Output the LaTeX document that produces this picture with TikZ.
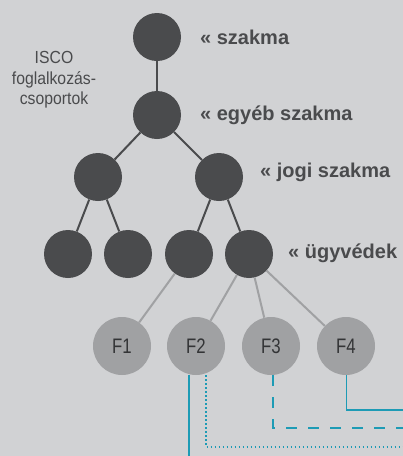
\documentclass[tikz,border=0pt]{standalone}
\usepackage{fontspec}
\setmainfont{Liberation Sans}
\newfontfamily\narrowfont[FakeStretch=0.8]{Liberation Sans}
\newfontfamily\semifont[FakeStretch=0.9]{Liberation Sans}
\definecolor{bg}{HTML}{D1D2D4}
\definecolor{dk}{HTML}{4A4B4D}
\definecolor{lt}{HTML}{A0A1A3}
\definecolor{fl}{HTML}{333436}
\definecolor{bl}{HTML}{1D9BB5}
\begin{document}
\begin{tikzpicture}[x=1pt,y=-1pt,
  dnode/.style={circle,fill=dk,minimum size=48pt,inner sep=0pt},
  fnode/.style={circle,fill=lt,minimum size=58pt,inner sep=0pt,font=\narrowfont\fontsize{21}{21}\selectfont,text=fl},
  dline/.style={draw=dk,line width=2pt},
  lline/.style={draw=lt,line width=2pt},
  bline/.style={draw=bl,line width=1.5pt},
  lab/.style={anchor=west,font=\bfseries\fontsize{20}{20}\selectfont,text=dk,inner sep=0pt}]
\fill[bg] (0,0) rectangle (403,456);
\useasboundingbox (0,0) rectangle (403,456);
% nodes
\node[dnode] (a) at (157,37) {};
\node[dnode] (b) at (157,115) {};
\node[dnode] (c1) at (98,177) {};
\node[dnode] (c2) at (219,177) {};
\node[dnode] (d1) at (68,254) {};
\node[dnode] (d2) at (128,254) {};
\node[dnode] (d3) at (189,254) {};
\node[dnode] (d4) at (249,254) {};
\node[fnode] (f1) at (122,346) {F1};
\node[fnode] (f2) at (196,346) {F2};
\node[fnode] (f3) at (271,346) {F3};
\node[fnode] (f4) at (346,346) {F4};
% connectors
\path[dline] (a) -- (b);
\path[dline] (b) -- (c1);
\path[dline] (b) -- (c2);
\path[dline] (c1) -- (d1);
\path[dline] (c1) -- (d2);
\path[dline] (c2) -- (d3);
\path[dline] (c2) -- (d4);
\path[lline] (d3) -- (f1);
\path[lline] (d4) -- (f2);
\path[lline] (d4) -- (f3);
\path[lline] (d4) -- (f4);
% blue lines
\coordinate (e1) at (189,456);
\coordinate (e2) at (403,446.7);
\coordinate (e3) at (403,428);
\coordinate (e4) at (403,410);
\path[bline] (f2.south -| e1) -- (e1);
\path[bline,line width=1.8pt,dash pattern=on 1.8pt off 2.2pt] (f2.south -| 206,0) -- (206,446.7) -- (e2);
\path[bline,dash pattern=on 11pt off 11pt] (f3.south -| 273,0) -- (273,428) -- (e3);
\path[bline] (f4.south -| 346.7,0) -- (346.7,410) -- (e4);
% labels
\node[lab] (la) at (200,37) {« szakma};
\node[lab] (lb) at (200,115) {« egyéb szakma};
\node[lab] (lc) at (260,172) {« jogi szakma};
\node[lab] (ld) at (288,253) {« ügyvédek};
\node[align=center,text=dk,font=\semifont\fontsize{17.5}{20.5}\selectfont] (isco) at (54,80) {ISCO\\foglalkozás-\\csoportok};
\end{tikzpicture}
\end{document}
